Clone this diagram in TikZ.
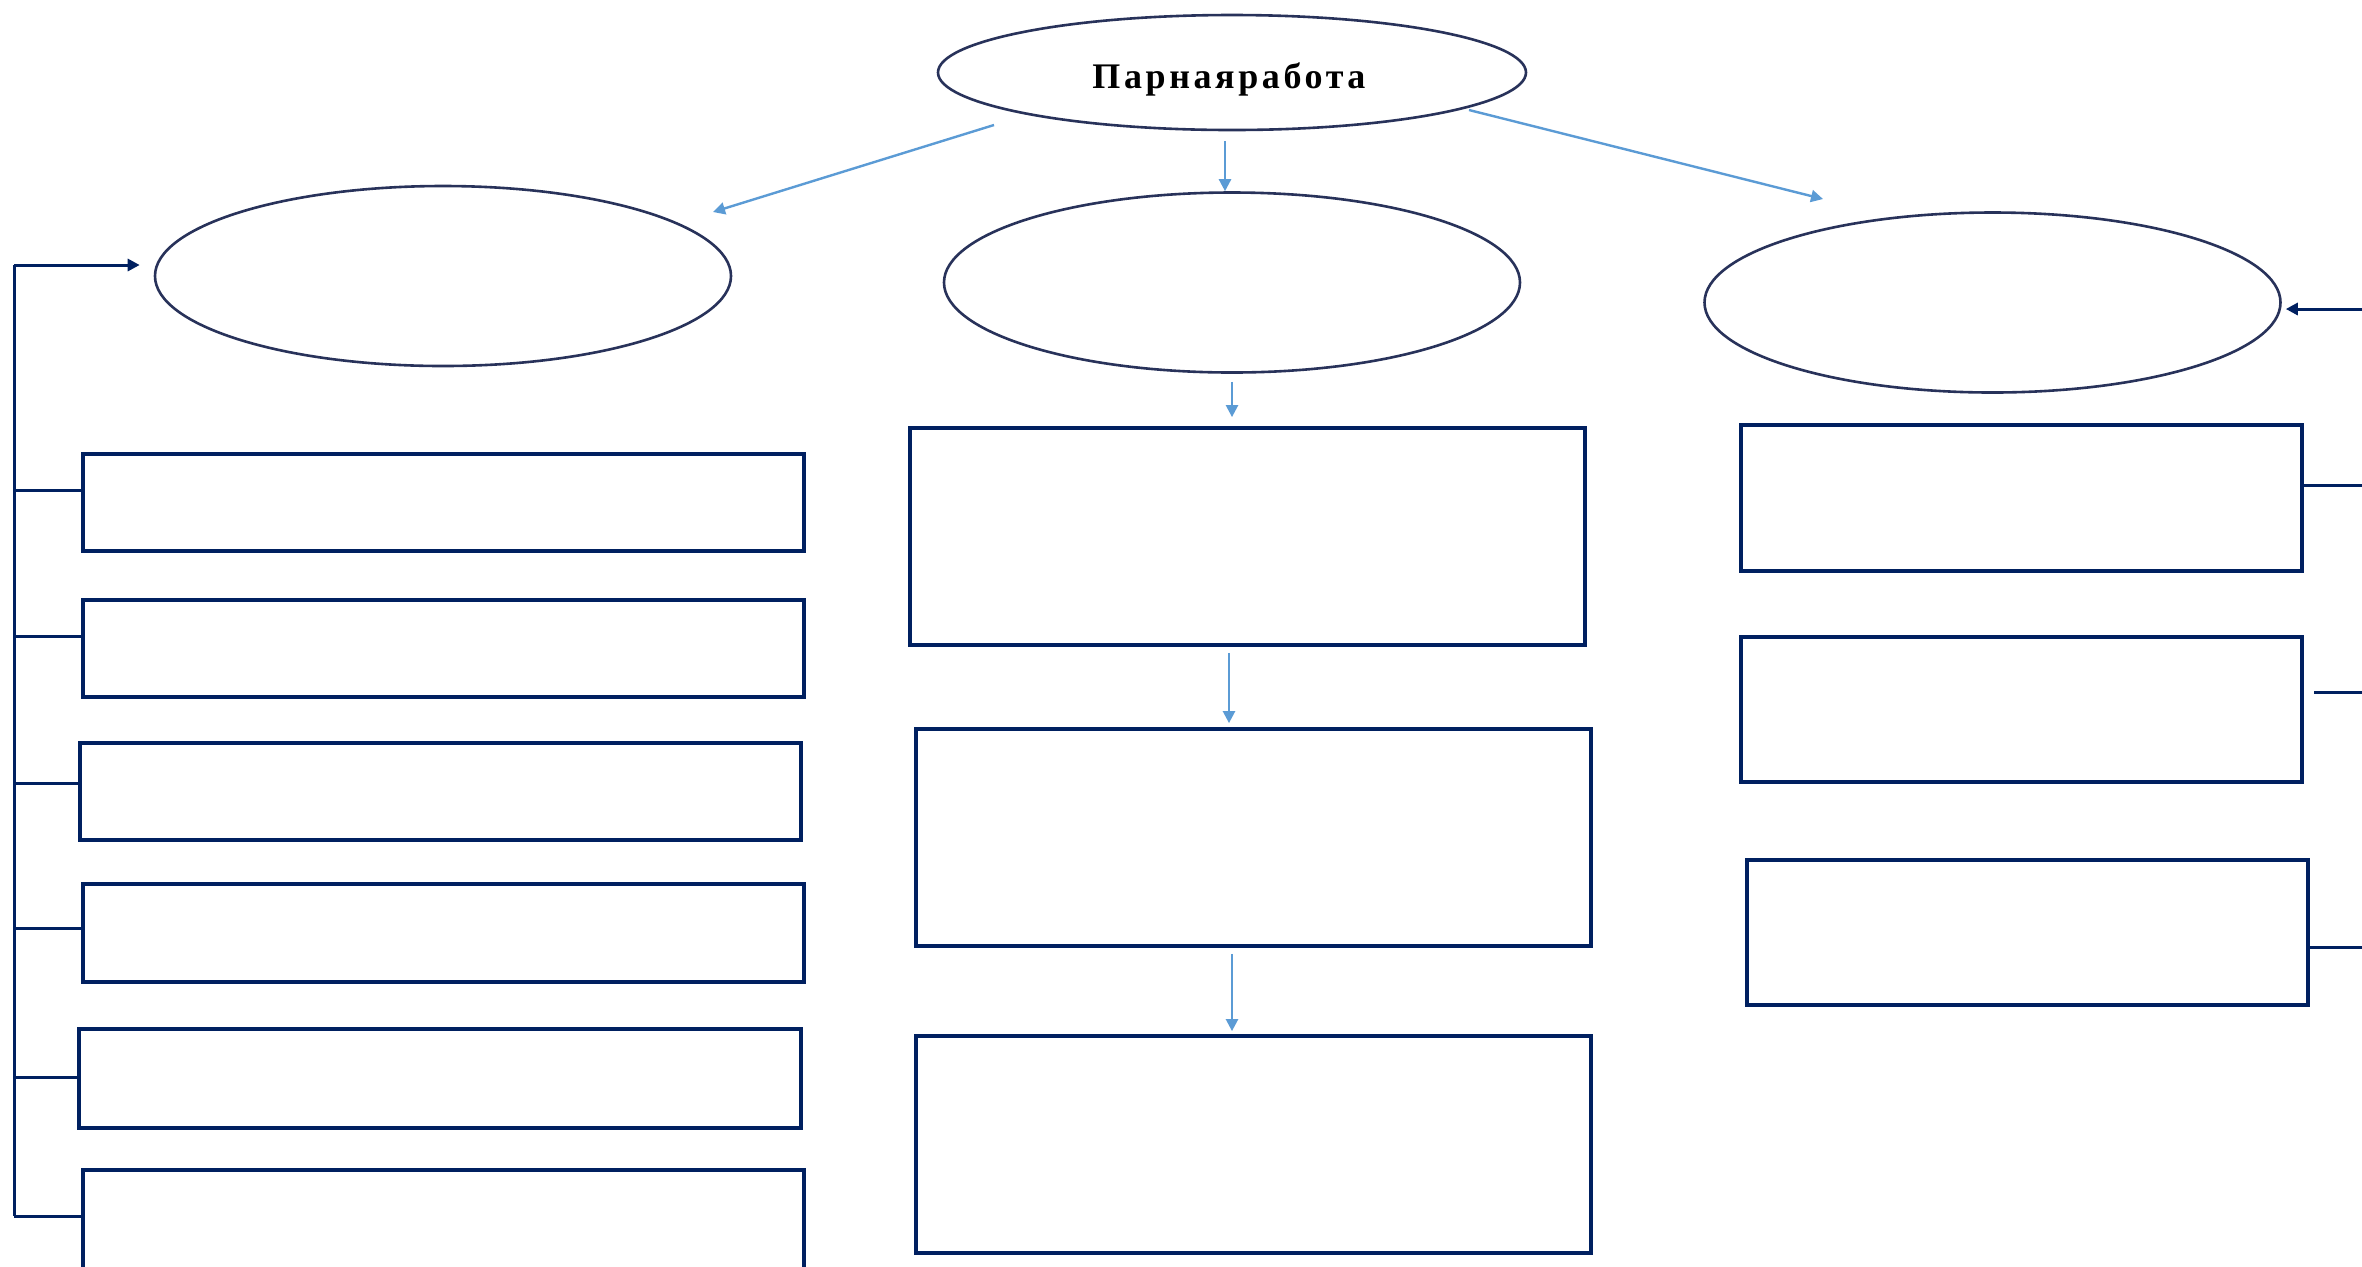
\documentclass[tikz,border=0pt]{standalone}
\usepackage{fontspec}
\newfontfamily\titlefont[LetterSpace=10]{Liberation Serif}
\usetikzlibrary{shapes.geometric,arrows.meta,fit,calc}
\definecolor{navy}{RGB}{0,32,96}
\definecolor{ellline}{RGB}{40,50,90}
\definecolor{lblue}{RGB}{91,155,213}
\tikzset{
  ell/.style={ellipse,draw=ellline,line width=1.3pt,inner sep=0pt},
  boxx/.style={rectangle,draw=navy,line width=1.9pt,inner sep=0pt},
  tick/.style={draw=navy,line width=1.5pt},
  navyarrow/.style={draw=navy,line width=1.5pt,-{Triangle[length=6pt,width=6pt]}},
  bluearrow/.style={draw=lblue,line width=1.2pt,-{Triangle[length=6pt,width=6pt]}}
}
\begin{document}
\begin{tikzpicture}[x=0.5pt,y=-0.5pt]
\useasboundingbox[fill=white] (0,0) rectangle (2362,1266);
% ellipses
\node[ell,minimum width=294pt,minimum height=57.5pt] (T) at (1232,72.5) {};
\node[font=\titlefont\bfseries\fontsize{18}{20}\selectfont] (Ttext) at (1229,79) {Парнаяработа};
\node[ell,minimum width=288pt,minimum height=90pt] (L) at (443,276) {};
\node[ell,minimum width=288pt,minimum height=90pt] (M) at (1232,282.5) {};
\node[ell,minimum width=288pt,minimum height=90pt] (R) at (1992.5,302.5) {};
% left boxes
\node[boxx,fit={(83,454) (804,551)}] (b1) {};
\node[boxx,fit={(83,600) (804,697)}] (b2) {};
\node[boxx,fit={(80,743) (801,840)}] (b3) {};
\node[boxx,fit={(83,884) (804,982)}] (b4) {};
\node[boxx,fit={(79,1029) (801,1128)}] (b5) {};
\node[boxx,fit={(83,1170) (804,1320)}] (b6) {};
% middle boxes
\node[boxx,fit={(910,428) (1585,645)}] (m1) {};
\node[boxx,fit={(916,729) (1591,946)}] (m2) {};
\node[boxx,fit={(916,1036) (1591,1253)}] (m3) {};
% right boxes
\node[boxx,fit={(1741,425) (2302,571)}] (r1) {};
\node[boxx,fit={(1741,637) (2302,782)}] (r2) {};
\node[boxx,fit={(1747,860) (2308,1005)}] (r3) {};
% left spine
\coordinate (sTop) at (14,265);
\coordinate (sBot) at (14,1216);
\coordinate (s1) at (14,490);
\coordinate (s2) at (14,636);
\coordinate (s3) at (14,783);
\coordinate (s4) at (14,928);
\coordinate (s5) at (14,1077);
\coordinate (s6) at (14,1216);
\draw[tick] (sBot) -- (sTop);
\draw[navyarrow,shorten >=7pt] (sTop) -- (sTop -| L.west);
\foreach \i in {1,...,6}{\draw[tick] (s\i) -- (s\i -| b\i.west);}
% right side
\coordinate (ra) at (2362,309);
\coordinate (q1) at (2362,485);
\coordinate (q2) at (2362,692);
\coordinate (q3) at (2362,947);
\draw[navyarrow,shorten >=2pt] (ra) -- (ra -| R.east);
\draw[tick] (q1) -- (q1 -| r1.east);
\draw[tick,shorten >=5pt] (q2) -- (q2 -| r2.east);
\draw[tick] (q3) -- (q3 -| r3.east);
% blue arrows
\coordinate (d1s) at (994,125);
\coordinate (d1e) at (713,212);
\coordinate (d2s) at (1469,110);
\coordinate (d2e) at (1823,199);
\draw[bluearrow] (d1s) -- (d1e);
\draw[bluearrow] (d2s) -- (d2e);
\draw[bluearrow,shorten <=5pt] ([xshift=-3.5pt]T.south) -- ([xshift=-3.5pt]T.south |- M.north);
\draw[bluearrow,shorten <=4pt,shorten >=4.5pt] (M.south) -- (M.south |- m1.north);
\draw[bluearrow,shorten <=3pt,shorten >=2pt] ([xshift=-1.5pt]M.south |- m1.south) -- ([xshift=-1.5pt]M.south |- m2.north);
\draw[bluearrow,shorten <=3pt,shorten >=1.5pt] (M.south |- m2.south) -- (M.south |- m3.north);
\end{tikzpicture}
\end{document}
